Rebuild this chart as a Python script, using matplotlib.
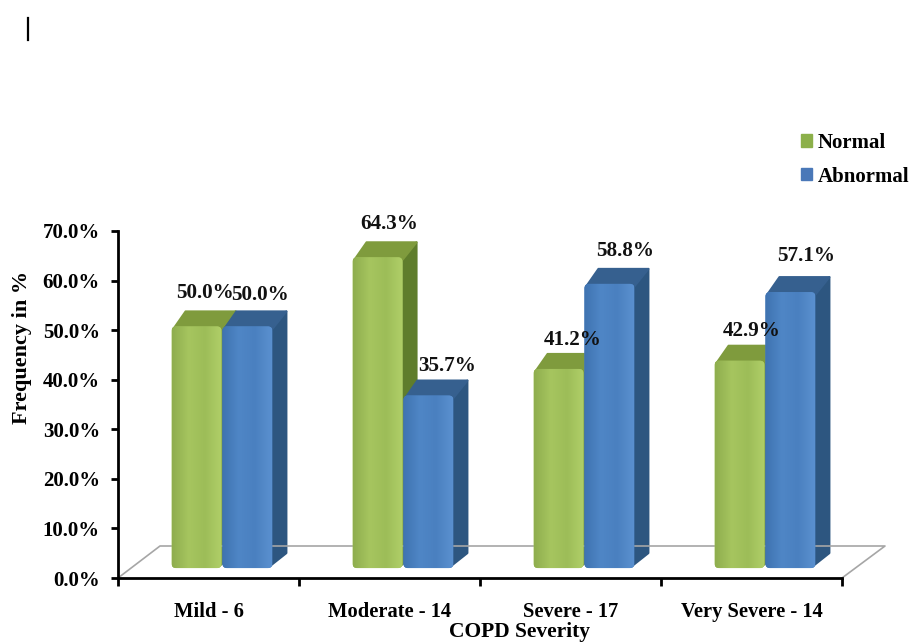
import matplotlib
matplotlib.use("Agg")
import matplotlib.pyplot as plt
import numpy as np
from matplotlib.colors import LinearSegmentedColormap
from matplotlib.patches import FancyBboxPatch, Polygon

plt.rcParams['font.family'] = ['Liberation Serif', 'DejaVu Serif']
plt.rcParams['font.weight'] = 'bold'

categories = ['Mild - 6', 'Moderate - 14', 'Severe - 17', 'Very Severe - 14']
normal = [50.0, 64.3, 41.2, 42.9]
abnormal = [50.0, 35.7, 58.8, 57.1]
yticks = [0, 10, 20, 30, 40, 50, 60, 70]

# label offsets from the front top centre of each bar, in pixels
normal_off = [(8, 33), (12, 33), (14, 29), (12, 30)]
abnormal_off = [(13, 31), (19, 30), (16, 33), (16, 36)]

W, H = 912, 642
fig = plt.figure(figsize=(W / 100, H / 100), dpi=100)
ax = fig.add_axes([118 / W, 1 - 578 / H, 724 / W, 347 / H])
ax.set_xlim(-0.5, 3.5)
ax.set_ylim(0, 70)

# 3d depth of a bar, in data units (14 px across, 15 px up)
ddx = 14 / 181
ddy = 15 / (347 / 70)
lift = 2.0  # bars stand on the floor, slightly above the axis
scale = 0.975
width = 0.276
corner = 0.025

green = LinearSegmentedColormap.from_list('g', ['#8fae4e', '#a6c55f', '#9dbd58', '#b0cf68'])
blue = LinearSegmentedColormap.from_list('b', ['#3f73b0', '#4f86c6', '#4a80c0', '#5a90cf'])
grad = np.linspace(0, 1, 64).reshape(1, -1)


def draw_bars(centers, values, cmap, side_col, top_col, offsets):
    for xc, v, off in zip(centers, values, offsets):
        top = lift + v * scale
        l, r = xc - width / 2, xc + width / 2
        ax.add_patch(Polygon([(r - 0.01, lift + 0.5), (r - 0.01, top), (r + ddx, top + ddy), (r + ddx, lift + ddy)],
                             closed=True, fc=side_col, ec=side_col, lw=1.5, joinstyle='round'))
        ax.add_patch(Polygon([(l + 0.01, top - 0.5), (r, top - 0.5), (r + ddx, top + ddy), (l + ddx, top + ddy)],
                             closed=True, fc=top_col, ec=top_col, lw=1.5, joinstyle='round'))
        front = FancyBboxPatch((l, lift), width, top - lift, boxstyle=f'round,pad=0,rounding_size={corner}',
                               mutation_aspect=(181 / 4.96), fc=cmap(0.5), lw=0, zorder=3)
        ax.add_patch(front)
        im = ax.imshow(grad, extent=(l, r, lift, top), aspect='auto', cmap=cmap, zorder=3.1)
        im.set_clip_path(front)
        ax.annotate(f'{v:.1f}%', (xc, top), xytext=(off[0] * 0.72, off[1] * 0.72),
                    textcoords='offset points', ha='center', va='center', fontsize=15.2,
                    color='#111111', zorder=5)


x = np.arange(len(categories))
draw_bars(x - 0.066, normal, green, '#5f7d2c', '#7f9b3d', normal_off)
draw_bars(x + 0.215, abnormal, blue, '#2d5680', '#36608f', abnormal_off)
ax.set_xlim(-0.5, 3.5)
ax.set_ylim(0, 70)

# floor of the 3d box
ax.plot([0, 42 / 724, 1 + 43 / 724, 1], [0, 32 / 347, 32 / 347, 0], transform=ax.transAxes,
        color='#a6a6a6', lw=1.2, clip_on=False, zorder=1)

for s in ['top', 'right']:
    ax.spines[s].set_visible(False)
for s in ['left', 'bottom']:
    ax.spines[s].set_linewidth(2)

ax.set_yticks(yticks)
ax.set_yticklabels([f'{t:.1f}%' for t in yticks], fontsize=15)
ax.set_xticks([-0.5, 0.5, 1.5, 2.5, 3.5])
ax.set_xticklabels([])
ax.set_xticks(x, minor=True)
ax.set_xticklabels(categories, minor=True, fontsize=14.8)
ax.tick_params(axis='x', which='minor', length=0, pad=17)
ax.tick_params(axis='x', which='major', length=6, width=2)
ax.tick_params(axis='y', length=5, width=2, pad=8)

fig.text(520 / W, 1 - 632 / H, 'COPD Severity', ha='center', va='center', fontsize=15.5)
fig.text(22 / W, 1 - 347 / H, 'Frequency in %', rotation=90, ha='center', va='center', fontsize=16)

# legend
h1 = plt.Rectangle((0, 0), 1, 1, color='#8cb04a')
h2 = plt.Rectangle((0, 0), 1, 1, color='#4a78b8')
fig.legend([h1, h2], ['Normal', 'Abnormal'], loc='upper left', bbox_to_anchor=(801 / W, 1 - 133 / H),
           frameon=False, fontsize=15, handlelength=0.55, handleheight=0.55, handletextpad=0.25,
           labelspacing=0.65, borderpad=0, borderaxespad=0)

# stray cursor mark at top left of the source image
fig.add_artist(plt.Line2D([28 / W, 28 / W], [1 - 18 / H, 1 - 40 / H], color='black', lw=1.6))

fig.savefig('out.png', dpi=100)
